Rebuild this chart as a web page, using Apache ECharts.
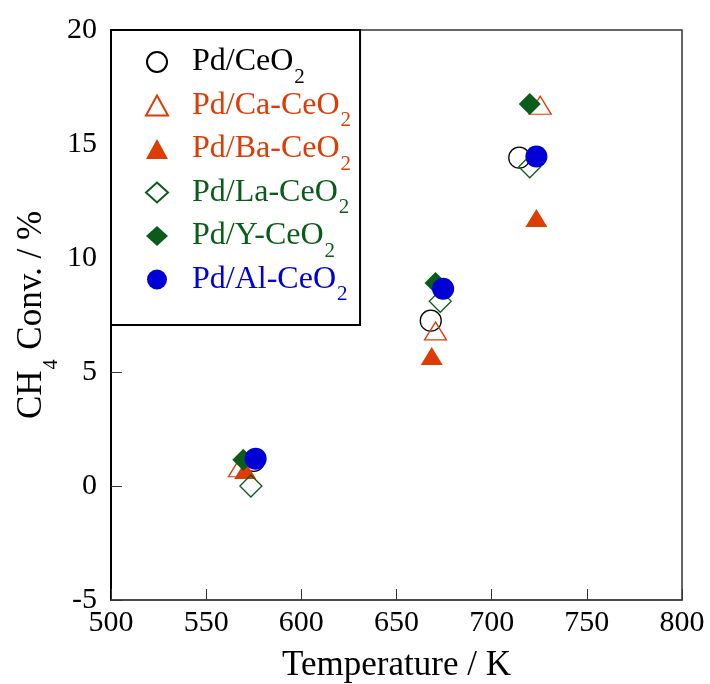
<!DOCTYPE html>
<html lang="en">
<head>
    <meta charset="UTF-8">
    <title>CH4 conversion</title>
    <style>
        html, body { margin: 0; padding: 0; background: #fff; }
        #scatter { width: 710px; height: 684px; }
    </style>
</head>
<body>
    <div id="scatter"></div>

    <script src="https://cdn.jsdelivr.net/npm/echarts@6/dist/echarts.min.js"></script>
    <script>
        // 数据 (温度 K, CH4 转化率 %)
        var seriesNames = ['Pd/CeO2', 'Pd/Ca-CeO2', 'Pd/Ba-CeO2', 'Pd/La-CeO2', 'Pd/Y-CeO2', 'Pd/Al-CeO2'];

        var ceT = [575, 668, 714.5];
        var ceY = [1.1, 7.25, 14.4];
        var caT = [567.5, 670.5, 725.5];
        var caY = [0.8, 6.8, 16.7];
        var baT = [570.5, 668.5, 723.5];
        var baY = [0.7, 5.7, 11.75];
        var laT = [573.5, 673, 720];
        var laY = [0.0, 8.1, 14.0];
        var yT = [569.5, 670.5, 720];
        var yY = [1.15, 8.9, 16.75];
        var alT = [576, 674.5, 723.5];
        var alY = [1.2, 8.65, 14.45];

        var xTicks = [500, 550, 600, 650, 700, 750, 800];
        var yTicks = [-5, 0, 5, 10, 15, 20];

        var black = '#000000', orange = '#dd3c04', green = '#0a5c1a', blue = '#0000d6';
        var font = '"Liberation Serif", "DejaVu Serif", serif';

        function pairs(t, v) {
            return t.map(function (x, i) { return [x, v[i]]; });
        }

        var myChart = echarts.init(document.getElementById('scatter'));

        // 空心/实心 标记
        function mk(name, t, v, symbol, size, color, hollow) {
            return {
                name: name,
                type: 'scatter',
                symbol: symbol,
                symbolSize: size,
                data: pairs(t, v),
                itemStyle: hollow ? {
                    color: 'rgba(255,255,255,0)',
                    borderColor: color,
                    borderWidth: 1.3,
                    opacity: 1
                } : { color: color, borderWidth: 0, opacity: 1 },
                emphasis: { disabled: true }
            };
        }

        function legendItem(name, color) {
            return { name: name, textStyle: { color: color } };
        }

        myChart.setOption({
            animation: false,
            grid: {
                left: 111, right: 28, top: 30, bottom: 84,
                outerBoundsMode: 'none',
                show: true,
                borderColor: '#333',
                borderWidth: 1.5
            },
            legend: {
                orient: 'vertical',
                left: 111,
                top: 30,
                itemWidth: 22,
                itemHeight: 20,
                itemGap: 2,
                padding: [16, 9, 20, 34],
                borderColor: '#000',
                borderWidth: 2,
                backgroundColor: '#fff',
                selectedMode: false,
                formatter: function (n) {
                    return '{sp|}{m|' + n.replace(/2$/, '') + '}{sub|2}';
                },
                textStyle: {
                    fontFamily: font,
                    fontSize: 32,
                    rich: {
                        sp: { width: 19, lineHeight: 32 },
                        m: { fontFamily: font, fontSize: 32, lineHeight: 32, verticalAlign: 'top' },
                        sub: { fontFamily: font, fontSize: 21, lineHeight: 21, verticalAlign: 'top', padding: [20.5, 0, 0, 1] }
                    }
                },
                data: [
                    legendItem(seriesNames[0], black),
                    legendItem(seriesNames[1], orange),
                    legendItem(seriesNames[2], orange),
                    legendItem(seriesNames[3], green),
                    legendItem(seriesNames[4], green),
                    legendItem(seriesNames[5], blue)
                ]
            },
            xAxis: {
                type: 'value',
                min: 500, max: 800, interval: 50,
                name: 'Temperature / K',
                nameLocation: 'middle',
                nameGap: 48,
                nameMoveOverlap: false,
                nameTextStyle: { fontFamily: font, fontSize: 35, lineHeight: 35, color: '#000' },
                axisLine: { onZero: false, lineStyle: { color: '#444', width: 1.5 } },
                axisTick: { inside: true, length: 11, lineStyle: { color: '#333', width: 1 } },
                axisLabel: { fontFamily: font, fontSize: 30, lineHeight: 30, color: '#000', margin: 8,
                    formatter: function (v) { return xTicks.indexOf(v) >= 0 ? v : ''; } },
                splitLine: { show: false }
            },
            yAxis: {
                type: 'value',
                min: -5, max: 20, interval: 5,
                name: '{m|CH}{s|4}{m| Conv. / %}',
                nameLocation: 'middle',
                nameGap: 62,
                nameRotate: 90,
                nameMoveOverlap: false,
                nameTextStyle: {
                    fontFamily: font, fontSize: 35, color: '#000',
                    rich: {
                        m: { fontFamily: font, fontSize: 35, lineHeight: 35, verticalAlign: 'top' },
                        s: { fontFamily: font, fontSize: 20, lineHeight: 20, verticalAlign: 'top', padding: [27.5, 1, 0, 1] }
                    }
                },
                axisLine: { onZero: false, lineStyle: { color: '#000', width: 2 } },
                axisTick: { inside: true, length: 11, lineStyle: { color: '#333', width: 1 } },
                axisLabel: { fontFamily: font, fontSize: 30, lineHeight: 30, color: '#000', margin: 14, padding: [0, 0, 5, 0],
                    formatter: function (v) { return yTicks.indexOf(v) >= 0 ? v : ''; } },
                splitLine: { show: false }
            },
            series: [
                mk(seriesNames[0], ceT, ceY, 'circle', 21, black, true),
                mk(seriesNames[1], caT, caY, 'triangle', [22, 18], orange, true),
                mk(seriesNames[2], baT, baY, 'triangle', [22, 18], orange, false),
                mk(seriesNames[3], laT, laY, 'diamond', 22, green, true),
                mk(seriesNames[4], yT, yY, 'diamond', 22, green, false),
                mk(seriesNames[5], alT, alY, 'circle', 22, blue, false)
            ]
        });
    </script>
</body>
</html>
